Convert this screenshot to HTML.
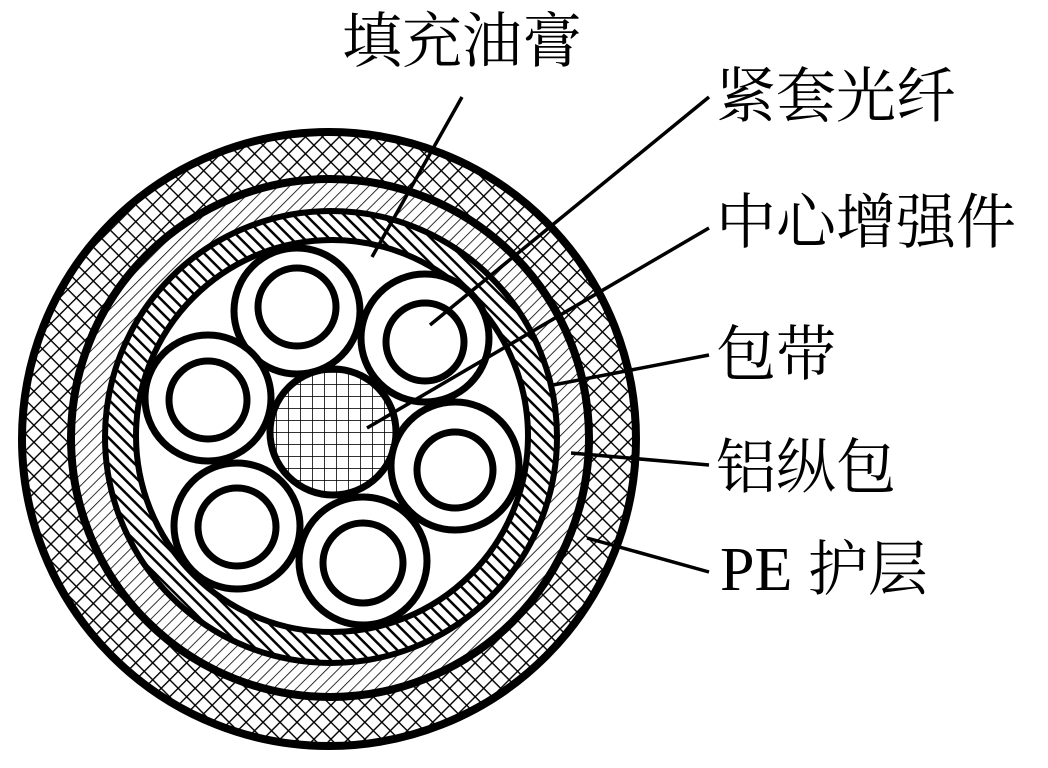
<!DOCTYPE html>
<html><head><meta charset="utf-8"><style>
html,body{margin:0;padding:0;background:#fff;}
svg{display:block;}
text{font-family:"Liberation Serif","Noto Serif CJK SC",serif;font-size:60px;fill:#000;}
</style></head><body>
<svg width="1048" height="768" viewBox="0 0 1048 768" xmlns="http://www.w3.org/2000/svg">
<defs>
<pattern id="pe" width="12" height="12" patternUnits="userSpaceOnUse" patternTransform="rotate(45)">
<rect width="12" height="12" fill="#fff"/>
<line x1="0" y1="0" x2="12" y2="0" stroke="#000" stroke-width="2.8"/>
<line x1="0" y1="0" x2="0" y2="12" stroke="#000" stroke-width="2.8"/>
</pattern>
<pattern id="al" width="8" height="8" patternUnits="userSpaceOnUse" patternTransform="rotate(45)">
<rect width="8" height="8" fill="#fff"/>
<line x1="0" y1="0" x2="0" y2="8" stroke="#000" stroke-width="1.6"/>
</pattern>
<pattern id="band" width="9" height="9" patternUnits="userSpaceOnUse" patternTransform="rotate(-45)">
<rect width="9" height="9" fill="#fff"/>
<line x1="0" y1="0" x2="0" y2="9" stroke="#000" stroke-width="5"/>
</pattern>
<pattern id="core" width="12" height="12" patternUnits="userSpaceOnUse">
<rect width="12" height="12" fill="#fff"/>
<line x1="0" y1="0" x2="12" y2="0" stroke="#000" stroke-width="1.6"/>
<line x1="0" y1="0" x2="0" y2="12" stroke="#000" stroke-width="1.6"/>
</pattern>
</defs>
<circle cx="329" cy="439" r="307" fill="url(#pe)" stroke="#000" stroke-width="8"/>
<circle cx="330" cy="438" r="259" fill="url(#al)" stroke="#000" stroke-width="8"/>
<circle cx="331" cy="437" r="226" fill="url(#band)" stroke="#000" stroke-width="6"/>
<circle cx="332" cy="436" r="196" fill="#fff" stroke="#000" stroke-width="6"/>
<circle cx="333" cy="432" r="63" fill="url(#core)" stroke="#000" stroke-width="7"/>
<g fill="#fff" stroke="#000" stroke-width="7">
<circle cx="297" cy="311" r="63"/><circle cx="297" cy="307" r="39"/>
<circle cx="425" cy="338" r="64"/><circle cx="425" cy="342" r="39"/>
<circle cx="208" cy="398" r="63"/><circle cx="208" cy="400" r="39"/>
<circle cx="455" cy="466" r="64"/><circle cx="455" cy="470" r="38"/>
<circle cx="237" cy="526" r="63"/><circle cx="237" cy="527" r="39"/>
<circle cx="363" cy="561" r="64"/><circle cx="363" cy="563" r="40"/>
</g>
<g stroke="#000" stroke-width="3.5" fill="none">
<line x1="462" y1="97" x2="372" y2="257"/>
<line x1="709" y1="97" x2="430" y2="325"/>
<line x1="709" y1="228" x2="367" y2="428"/>
<line x1="709" y1="355" x2="553" y2="385"/>
<line x1="709" y1="465" x2="571" y2="453"/>
<line x1="709" y1="572" x2="587" y2="538"/>
</g>
<text x="342" y="62">填充油膏</text>
<text x="716" y="117">紧套光纤</text>
<text x="716" y="243">中心增强件</text>
<text x="716" y="375">包带</text>
<text x="716" y="488">铝纵包</text>
<text x="720" y="590" style="font-size:62px">PE <tspan style="font-size:60px">护层</tspan></text>
</svg>
</body></html>
